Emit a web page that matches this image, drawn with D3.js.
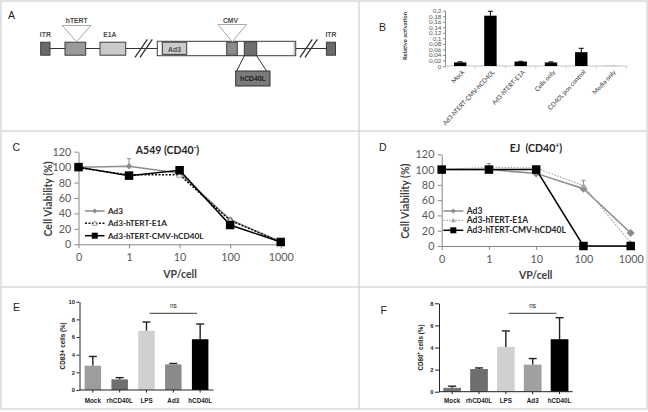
<!DOCTYPE html>
<html><head><meta charset="utf-8">
<script src="https://cdn.jsdelivr.net/npm/d3@7"></script>
<style>body{margin:0;background:#fff}svg{display:block}</style>
</head><body>
<svg id="c" width="648" height="412"></svg>
<script>
// ---------------- DATA ----------------
// Panel A: construct map (arbitrary map units)
const constructNames = ["ITR","hTERT","E1A","cassette","Ad3","CMV","hCD40L","ITR"];
const constructStart = [0.7, 25, 60, 117.3, 122.3, 186.7, 204.3, 286.4];
const constructEnd   = [10, 45.7, 85.7, 255.7, 146.7, 197.3, 216.7, 295.5];
const breakPoints = [95, 260];

// Panel B
const bCats = ["Mock","Ad3-hTERT-CMV-hCD40L","Ad3-hTERT-E1A","Cells only","CD40L pos control","Media only"];
const bValues = [0.013, 0.182, 0.016, 0.013, 0.05, 0.002];
const bErrors = [0.002, 0.016, 0.001, 0.002, 0.014, 0];
const bTicks = [0,0.02,0.04,0.06,0.08,0.1,0.12,0.14,0.16,0.18,0.2];

// Panels C, D
const vpCats = ["0","1","10","100","1000"];
const viabTicks = [0,20,40,60,80,100,120];
const seriesNames = ["Ad3","Ad3-hTERT-E1A","Ad3-hTERT-CMV-hCD40L"];
const cAd3 = [100, 101, 92, 32, 3];
const cE1A = [99, 90, 90, 31, 3];
const cCMV = [100, 89, 96, 25, 3];
const cAd3Err = [0, 10, 2, 2, 0];
const cE1AErr = [0, 1, 2, 2, 0];
const cCMVErr = [0, 0, 4, 0, 0];
const dAd3 = [100, 100, 95, 75, 17];
const dE1A = [100, 103, 102, 79, 4];
const dCMV = [100, 100, 100, 0, 0];
const dAd3Err = [0, 3, 2, 4, 2];
const dE1AErr = [0, 5, 3, 7, 0];
const dCMVErr = [0, 0, 0, 0, 0];

// Panels E, F
const dcCats = ["Mock","rhCD40L","LPS","Ad3","hCD40L"];
const eValues = [2.75, 1.2, 6.7, 2.9, 5.75];
const eErrors = [1.05, 0.2, 1.0, 0.1, 1.72];
const eTicks = [0,2,4,6,8,10];
const fValues = [0.35, 2.05, 4.05, 2.45, 4.75];
const fErrors = [0.15, 0.1, 1.45, 0.55, 1.95];
const fTicks = [0,2,4,6,8];

// ---------------- DRAW ----------------
const svg = d3.select("#c");
const SANS = "'Liberation Sans', Arial, sans-serif";
const XL = "Lato, 'Open Sans', sans-serif";

// frame & dividers
svg.append("rect").attr("x",1).attr("y",1).attr("width",646).attr("height",408)
  .attr("fill","none").attr("stroke","#c6c6c6");
[[359,1,359,409],[1,131,647,131],[1,287,647,287]].forEach(l=>{
  svg.append("line").attr("x1",l[0]).attr("y1",l[1]).attr("x2",l[2]).attr("y2",l[3])
    .attr("stroke","#c6c6c6");
});

// panel letters
[["A",8,19],["B",379,30.5],["C",12.5,150.5],["D",379,150.7],["E",13,310.7],["F",380.5,314]].forEach(p=>{
  svg.append("text").attr("x",p[1]).attr("y",p[2]).text(p[0])
    .attr("font-family",SANS).attr("font-size",10.5).attr("fill","#222");
});

// ---------- Panel A ----------
(function(){
  const gx = d3.scaleLinear().domain([0,296]).range([40,336]);
  const g = svg.append("g");
  const yMid = 48.5;
  const el = i => ({name:constructNames[i], x0:gx(constructStart[i]), x1:gx(constructEnd[i])});
  g.append("line").attr("x1",el(0).x1).attr("x2",el(7).x0).attr("y1",yMid).attr("y2",yMid)
    .attr("stroke","#333").attr("stroke-width",1);
  breakPoints.forEach(b=>{
    const bx = gx(b);
    [0,5].forEach(o=>{
      g.append("line").attr("x1",bx+o).attr("y1",57.3).attr("x2",bx+o+12.3).attr("y2",39.3)
        .attr("stroke","#333").attr("stroke-width",1.3);
    });
  });
  const fills = {"ITR":"#6a6a6a","hTERT":"#9a9a9a","E1A":"#cacaca","cassette":"#ffffff","Ad3":"#cacaca","CMV":"#8c8c8c","hCD40L":"#6e6e6e"};
  constructNames.forEach((n,i)=>{
    const e = el(i);
    let y0 = 42.2, h = 13;
    if(n==="cassette"){ y0 = 41.3; h = 14.4; }
    if(n==="Ad3"){ y0 = 42.2; h = 12.2; }
    if(n==="hCD40L"){ y0 = 41.8; h = 13.9; }
    g.append("rect").attr("x",e.x0).attr("y",y0).attr("width",e.x1-e.x0).attr("height",h)
      .attr("fill",fills[n]).attr("stroke","#3c3c3c").attr("stroke-width",1);
    if(n==="cassette"){
      g.append("line").attr("x1",e.x0+5).attr("x2",e.x0+5).attr("y1",y0).attr("y2",y0+h).attr("stroke","#888").attr("stroke-width",0.8);
      g.append("line").attr("x1",e.x1-1.5).attr("x2",e.x1-1.5).attr("y1",y0).attr("y2",y0+h).attr("stroke","#888").attr("stroke-width",0.8);
    }
  });
  [[1,25.5],[5,24.5]].forEach(t=>{
    const e = el(t[0]); const cx = (e.x0+e.x1)/2 + (t[0]===1?1.3:0.3);
    g.append("polygon").attr("points",`${cx-14.3},${t[1]} ${cx+14.3},${t[1]} ${cx},41.7`)
      .attr("fill","#fff").attr("stroke","#a8a8a8").attr("stroke-width",1);
  });
  const lbl = (txt,x,y,anchor)=> g.append("text").attr("x",x).attr("y",y).text(txt)
      .attr("text-anchor",anchor||"middle").attr("font-family",SANS).attr("font-weight","bold")
      .attr("font-size",6.8).attr("fill","#4a4a4a");
  lbl("ITR",(el(0).x0+el(0).x1)/2,36.5);
  lbl("ITR",(el(7).x0+el(7).x1)/2,36.5);
  lbl("hTERT",76.7,23.3);
  lbl("E1A",109.8,36.5);
  lbl("CMV",230.5,23.3);
  lbl("Ad3",(el(4).x0+el(4).x1)/2,51.5);
  const ins = el(6);
  const bx0 = 235.7, bx1 = 270;
  g.append("line").attr("x1",ins.x0).attr("y1",55.7).attr("x2",bx0+1).attr("y2",71).attr("stroke","#333");
  g.append("line").attr("x1",ins.x1).attr("y1",55.7).attr("x2",bx1-3.5).attr("y2",71).attr("stroke","#333");
  g.append("rect").attr("x",bx0).attr("y",71).attr("width",bx1-bx0).attr("height",15)
    .attr("fill","#7a7a7a").attr("stroke","#333");
  lbl("hCD40L",(bx0+bx1)/2,81.3).attr("fill","#222");
})();

// ---------- Panel B ----------
(function(){
  const xB = d3.scaleBand().domain(bCats).range([445,626.7]).paddingInner(0.59).paddingOuter(0.295);
  const yB = d3.scaleLinear().domain([0,0.2]).range([66,10.7]);
  const g = svg.append("g");
  const ax = d3.axisLeft(yB).tickValues(bTicks).tickSize(2).tickSizeOuter(0).tickPadding(1.5)
    .tickFormat(d=>String(+d.toFixed(2)).replace(".",","));
  const ga = g.append("g").attr("transform","translate(445,0)").call(ax);
  ga.select(".domain").attr("stroke","#8a8a8a");
  ga.selectAll(".tick line").attr("stroke","#8a8a8a");
  ga.selectAll("text").attr("font-family",XL).attr("font-size",6.3).attr("fill","#555");
  g.append("line").attr("x1",445).attr("x2",626.7).attr("y1",66).attr("y2",66).attr("stroke","#c4c4c4");
  d3.range(bCats.length+1).forEach(i=>{
    const x = 445 + i*xB.step();
    g.append("line").attr("x1",x).attr("x2",x).attr("y1",66).attr("y2",68.5).attr("stroke","#c4c4c4");
  });
  const bw = xB.bandwidth();
  bCats.forEach((c,i)=>{
    const v = bValues[i];
    g.append("rect").attr("x",xB(c)).attr("y",yB(v)).attr("width",bw).attr("height",yB(0)-yB(v))
      .attr("fill", c==="Media only" ? "#bdbdbd" : "#000");
    if(bErrors[i]>0){
      const cx = xB(c)+bw/2;
      g.append("line").attr("x1",cx).attr("x2",cx).attr("y1",yB(v)).attr("y2",yB(v+bErrors[i])).attr("stroke","#000");
      g.append("line").attr("x1",cx-2.5).attr("x2",cx+2.5).attr("y1",yB(v+bErrors[i])).attr("y2",yB(v+bErrors[i])).attr("stroke","#000");
    }
    g.append("text").attr("transform",`translate(${xB(c)+bw/2+3},71) rotate(-47)`)
      .attr("text-anchor","end").attr("dy","0.35em").text(c)
      .attr("font-family",XL).attr("font-size",6.3).attr("fill","#333");
  });
  g.append("text").attr("transform","translate(406.5,36) rotate(-90)").attr("text-anchor","middle")
    .text("Relative activation").attr("font-family",XL).attr("font-weight","bold")
    .attr("font-size",5.8).attr("fill","#333");
})();

// ---------- Panels C, D ----------
function marker(g, type, cx, cy, s, fill, stroke){
  if(type==="square"){
    g.append("rect").attr("x",cx-s/2).attr("y",cy-s/2).attr("width",s).attr("height",s).attr("fill",fill);
  } else if(type==="diamond"){
    const h = s/2;
    g.append("polygon").attr("points",`${cx},${cy-h} ${cx+h},${cy} ${cx},${cy+h} ${cx-h},${cy}`).attr("fill",fill);
  } else {
    const h = s/2;
    g.append("polygon").attr("points",`${cx},${cy-h} ${cx+h},${cy+h*0.8} ${cx-h},${cy+h*0.8}`)
      .attr("fill",fill).attr("stroke",stroke||"none").attr("stroke-width",0.8);
  }
}
function drawViab(o){
  const x = d3.scalePoint().domain(vpCats).range([o.x0,o.x1]);
  const y = d3.scaleLinear().domain([0,120]).range([o.yb,o.yt]);
  const g = svg.append("g");
  const ay = d3.axisLeft(y).tickValues(viabTicks).tickSize(4).tickSizeOuter(0).tickPadding(3.3);
  const gy = g.append("g").attr("transform",`translate(${o.x0},0)`).call(ay);
  const ax = d3.axisBottom(x).tickSize(4).tickSizeOuter(0).tickPadding(5.5);
  const gxa = g.append("g").attr("transform",`translate(0,${o.yb})`).call(ax);
  [gy,gxa].forEach(a=>{
    a.select(".domain").attr("stroke","#868686");
    a.selectAll(".tick line").attr("stroke","#868686");
    a.selectAll("text").attr("font-family",XL).attr("font-size",10.8).attr("fill","#595959");
  });
  g.append("text").attr("x",(o.x0+o.x1)/2 + o.vpdx).attr("y",o.yb+33.2).attr("text-anchor","middle")
    .text("VP/cell").attr("font-family",XL).attr("font-weight","bold").attr("font-size",10.5).attr("fill","#404040");
  g.append("text").attr("transform",`translate(${o.ylx},${(o.yb+o.yt)/2+1}) rotate(-90)`).attr("text-anchor","middle")
    .text("Cell Viability (%)").attr("font-family",XL).attr("font-weight","bold").attr("font-size",10.5).attr("fill","#404040");
  const t = g.append("text").attr("x",o.tx).attr("y",o.ty).attr("text-anchor","middle").style("white-space","pre")
    .attr("font-family",XL).attr("font-weight","bold").attr("font-size",10.5).attr("fill","#262626");
  t.append("tspan").text(o.title);
  t.append("tspan").attr("dy",-4).attr("font-size",7).text(o.sup);
  t.append("tspan").attr("dy",4).text(")");

  o.series.forEach(s=>{
    s.err.forEach((e,i)=>{
      if(e>0){
        const cx = x(vpCats[i]);
        g.append("line").attr("x1",cx).attr("x2",cx).attr("y1",y(s.vals[i])).attr("y2",y(s.vals[i]+e)).attr("stroke",s.ecol).attr("stroke-width",1);
        g.append("line").attr("x1",cx-2).attr("x2",cx+2).attr("y1",y(s.vals[i]+e)).attr("y2",y(s.vals[i]+e)).attr("stroke",s.ecol).attr("stroke-width",1);
      }
    });
    g.append("path").datum(s.vals)
      .attr("d",d3.line().x((d,i)=>x(vpCats[i])).y(d=>y(d)))
      .attr("fill","none").attr("stroke",s.color).attr("stroke-width",s.w).attr("stroke-dasharray",s.dash||null);
    s.vals.forEach((v,i)=>marker(g,s.m,x(vpCats[i]),y(v),s.ms,s.mfill,s.mstroke));
  });
  o.series.forEach((s,k)=>{
    const ly = o.ly[k];
    g.append("line").attr("x1",o.lx0).attr("x2",o.lx1).attr("y1",ly).attr("y2",ly)
      .attr("stroke",s.color).attr("stroke-width",s.w).attr("stroke-dasharray",s.dash||null);
    marker(g,s.m,(o.lx0+o.lx1)/2,ly,s.lms,s.mfill,s.mstroke);
    g.append("text").attr("x",o.lx1+3.5).attr("y",ly).attr("dy","0.35em").text(seriesNames[k])
      .attr("font-family",XL).attr("font-weight","bold").attr("font-size",o.lfs).attr("fill","#262626");
  });
}
drawViab({x0:78.5,x1:280.7,yb:244.3,yt:151.7,ylx:51.5,vpdx:0.5,tx:167.5,ty:154,title:"A549 (CD40",sup:"-",
  lx0:85,lx1:104.5,ly:[211,223.3,235.7],lfs:8.2,
  series:[
    {vals:cAd3,err:cAd3Err,color:"#8c8c8c",w:1.5,m:"diamond",ms:6.5,lms:5,mfill:"#8c8c8c",ecol:"#8c8c8c"},
    {vals:cE1A,err:cE1AErr,color:"#111",w:1.5,dash:"2,1.5",m:"triangle",ms:6,lms:5,mfill:"#fff",mstroke:"#8c8c8c",ecol:"#555"},
    {vals:cCMV,err:cCMVErr,color:"#000",w:1.5,m:"square",ms:8.5,lms:6,mfill:"#000",ecol:"#000"}
  ]});
drawViab({x0:441.7,x1:630.7,yb:246,yt:154.3,ylx:408.5,vpdx:-0.5,tx:536,ty:152,title:"EJ  (CD40",sup:"+",
  lx0:443.3,lx1:463.3,ly:[211,220.3,230.3],lfs:8.5,
  series:[
    {vals:dAd3,err:dAd3Err,color:"#8c8c8c",w:1.5,m:"diamond",ms:8,lms:5,mfill:"#8c8c8c",ecol:"#8c8c8c"},
    {vals:dE1A,err:dE1AErr,color:"#a6a6a6",w:1.2,dash:"1.5,1.5",m:"triangle",ms:6,lms:5,mfill:"#a6a6a6",ecol:"#8c8c8c"},
    {vals:dCMV,err:dCMVErr,color:"#000",w:1.5,m:"square",ms:8.5,lms:6,mfill:"#000",ecol:"#000"}
  ]});

// ---------- Panels E, F ----------
function drawDC(o){
  const x = d3.scaleBand().domain(dcCats).range([o.x0,o.x1]).paddingInner(o.pi).paddingOuter(o.po);
  const y = d3.scaleLinear().domain([0,o.max]).range([o.yb,o.yt]);
  const g = svg.append("g");
  const bw = x.bandwidth();
  dcCats.forEach((c,i)=>{
    const v = o.vals[i], e = o.errs[i], cx = x(c)+bw/2;
    g.append("line").attr("x1",cx).attr("x2",cx).attr("y1",y(v)).attr("y2",y(v+e)).attr("stroke","#222").attr("stroke-width",1.4);
    g.append("line").attr("x1",cx-4).attr("x2",cx+4).attr("y1",y(v+e)).attr("y2",y(v+e)).attr("stroke","#222").attr("stroke-width",1.4);
    g.append("rect").attr("x",x(c)).attr("y",y(v)).attr("width",bw).attr("height",y(0)-y(v)).attr("fill",o.colors[i]);
    g.append("line").attr("x1",cx).attr("x2",cx).attr("y1",o.yb).attr("y2",o.yb+2.5).attr("stroke","#222");
    g.append("text").attr("x",cx).attr("y",o.laby).attr("text-anchor","middle").text(c)
      .attr("font-family",SANS).attr("font-weight","bold").attr("font-size",6.3).attr("fill","#222");
  });
  g.append("line").attr("x1",o.x0).attr("x2",o.x1).attr("y1",o.yb).attr("y2",o.yb).attr("stroke","#222");
  const ay = d3.axisLeft(y).tickValues(o.ticks).tickSize(o.ts).tickSizeOuter(0).tickPadding(1.5);
  const ga = g.append("g").attr("transform",`translate(${o.x0},0)`).call(ay);
  ga.select(".domain").attr("stroke","#222");
  ga.selectAll(".tick line").attr("stroke","#222");
  ga.selectAll("text").attr("font-family",SANS).attr("font-weight","bold").attr("font-size",5.8).attr("fill","#222");
  const yl = g.append("text").attr("transform",`translate(${o.ylx},${(o.yb+o.yt)/2}) rotate(-90)`).attr("text-anchor","middle")
    .attr("font-family",SANS).attr("font-weight","bold").attr("font-size",6.3).attr("fill","#222");
  yl.append("tspan").text(o.ylab[0]);
  if(o.ylab[1]){ yl.append("tspan").attr("dy",-2.5).attr("font-size",4.5).text(o.ylab[1]); yl.append("tspan").attr("dy",2.5).text(o.ylab[2]); }
  const l0 = x("LPS")+bw/2+3, l1 = x("hCD40L")+bw/2-3;
  g.append("line").attr("x1",l0).attr("x2",l1).attr("y1",313.3).attr("y2",313.3).attr("stroke","#222").attr("stroke-width",0.9);
  g.append("text").attr("x",(l0+l1)/2).attr("y",308).attr("text-anchor","middle").text("ns")
    .attr("font-family",SANS).attr("font-size",6.5).attr("fill","#222");
}
drawDC({x0:79.5,x1:213.5,pi:0.385,po:0.19,yb:390,yt:301.7,max:10,ticks:eTicks,ts:3,ylx:64.5,laby:403,
  vals:eValues,errs:eErrors,colors:["#9d9d9d","#6e6e6e","#d0d0d0","#8a8a8a","#000"],ylab:["CD83+ cells (%)"]});
drawDC({x0:439,x1:572.7,pi:0.34,po:0.16,yb:391.7,yt:303.3,max:8,ticks:fTicks,ts:4,ylx:422.5,laby:402.5,
  vals:fValues,errs:fErrors,colors:["#767676","#6e6e6e","#d0d0d0","#a0a0a0","#000"],ylab:["CD80","+"," cells (%)"]});
</script>
</body></html>
